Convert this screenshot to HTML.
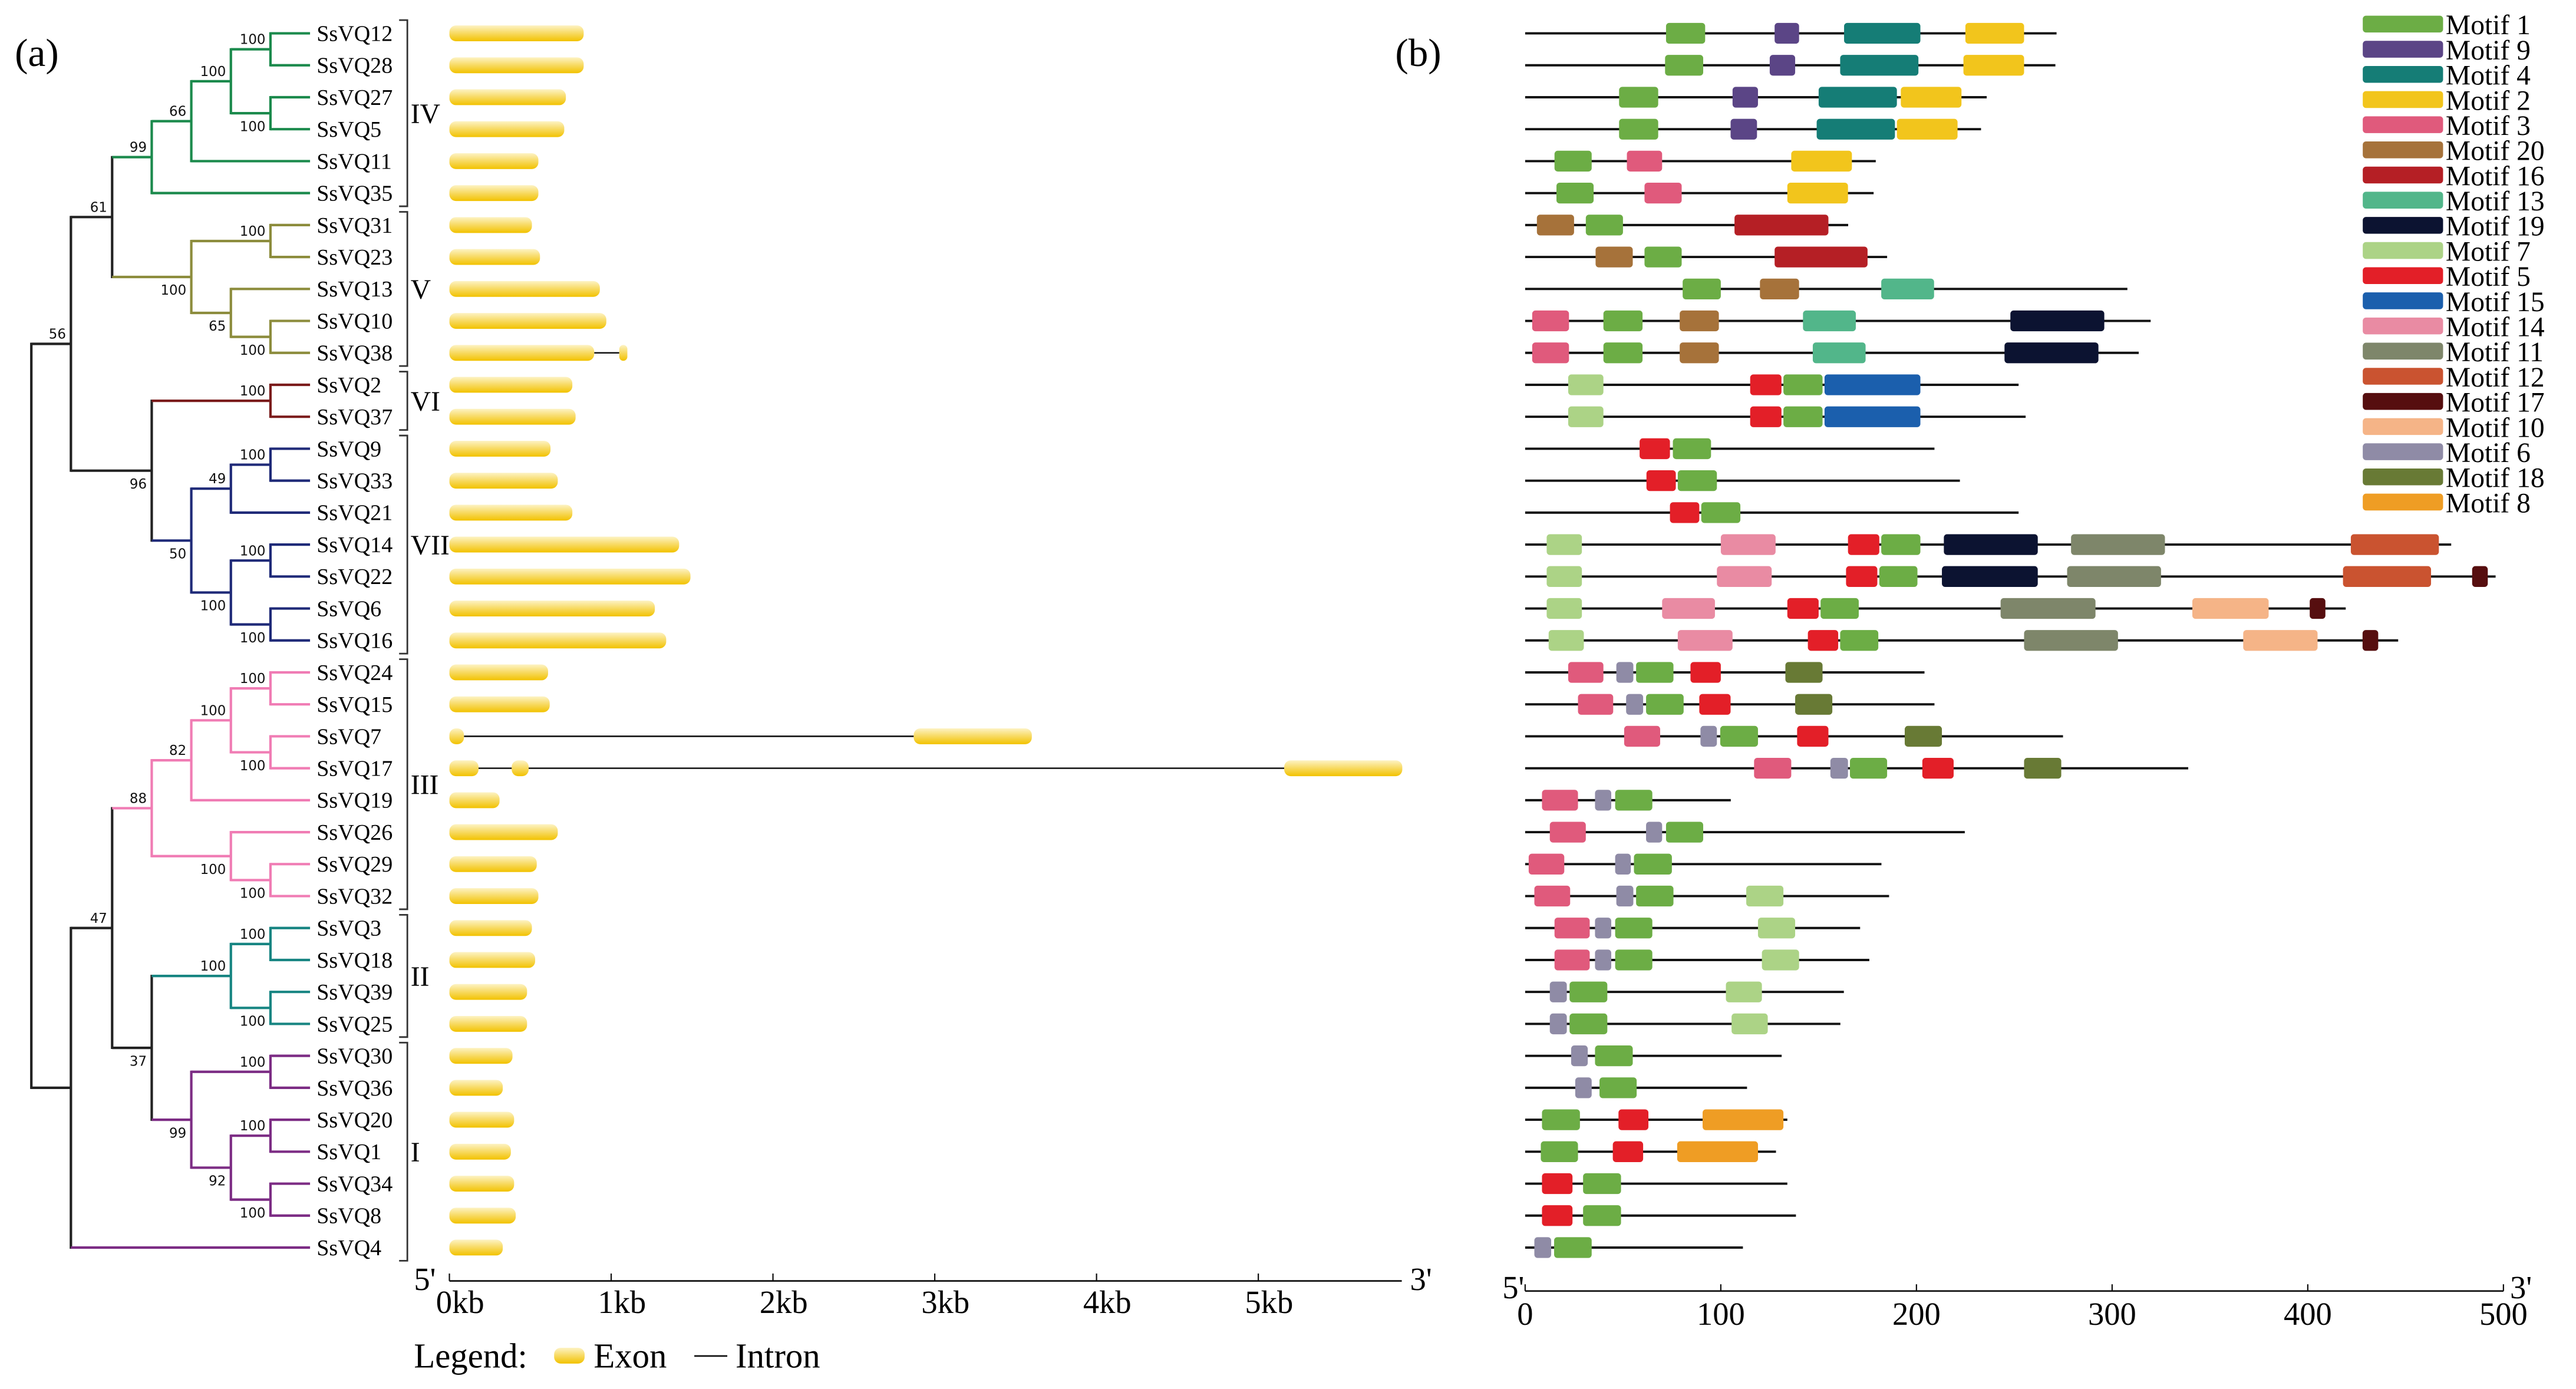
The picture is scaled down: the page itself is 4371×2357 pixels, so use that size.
<!DOCTYPE html>
<html><head><meta charset="utf-8">
<style>
html,body{margin:0;padding:0;background:#fff;}
svg{display:block;}
text{font-family:"Liberation Serif",serif;}
.bs{font-family:"DejaVu Sans","Liberation Sans",sans-serif;font-size:8.2px;fill:#111;}
</style></head>
<body>
<svg id="fig" xmlns="http://www.w3.org/2000/svg" width="4371" height="2357" viewBox="0 0 1562 842" preserveAspectRatio="none">
<defs>
<linearGradient id="exg" x1="0" y1="0" x2="0" y2="1">
<stop offset="0" stop-color="#fdf3c4"/><stop offset="0.45" stop-color="#f8dc6a"/><stop offset="1" stop-color="#f2c200"/>
</linearGradient>
</defs>
<g id="panelA"></g>
<g id="panelB"></g>
<text x="9" y="40" font-size="24">(a)</text>
<text x="846" y="40" font-size="24">(b)</text>
</svg>
<script>
// ---------- data ----------
const genes = ['12','28','27','5','11','35','31','23','13','10','38','2','37','9','33','21','14','22','6','16','24','15','7','17','19','26','29','32','3','18','39','25','30','36','20','1','34','8','4'];
// exons in kb per gene
const exons = [
 [[0,0.83]],[[0,0.83]],[[0,0.72]],[[0,0.71]],[[0,0.55]],[[0,0.55]],[[0,0.51]],[[0,0.56]],[[0,0.93]],[[0,0.97]],
 [[0,0.895],[1.05,1.10]],[[0,0.76]],[[0,0.78]],[[0,0.625]],[[0,0.67]],[[0,0.76]],[[0,1.42]],[[0,1.49]],[[0,1.27]],[[0,1.34]],
 [[0,0.61]],[[0,0.62]],[[0,0.09],[2.87,3.60]],[[0,0.18],[0.385,0.49],[5.16,5.89]],[[0,0.31]],[[0,0.67]],[[0,0.54]],[[0,0.55]],
 [[0,0.51]],[[0,0.53]],[[0,0.48]],[[0,0.48]],[[0,0.39]],[[0,0.33]],[[0,0.40]],[[0,0.38]],[[0,0.40]],[[0,0.41]],[[0,0.33]]
];
// protein lengths (aa)
const protLen = [271.6,271,235.9,233,179.2,178.1,165.1,185,307.8,319.7,313.6,252.2,255.8,209.2,222.2,252.2,473.3,496,419.4,446.2,
 204.1,209.2,274.9,338.9,105.1,224.7,182.1,186,171.2,175.9,162.9,161.1,131.1,113.4,134,128.2,134,138.4,111.3];
// motifs [motif id, start aa, end aa]
const motifs = [
 [[1,72,92],[9,127.5,140],[4,163,202],[2,225,255]],
 [[1,71.5,91],[9,125,138],[4,161,201],[2,224,255]],
 [[1,48,68],[9,106,119],[4,150,190],[2,192,223]],
 [[1,48,68],[9,105,118.5],[4,149,189],[2,190,221]],
 [[1,15,34],[3,52,70],[2,136,167]],
 [[1,16,35],[3,61,80],[2,134,165]],
 [[20,6,25],[1,31,50],[16,107,155]],
 [[20,36,55],[1,61,80],[16,127.5,175]],
 [[1,80.5,100],[20,120,140],[13,182,209]],
 [[3,3.6,22.4],[1,40,60],[20,79,99],[13,142,169],[19,248,296]],
 [[3,3.6,22.4],[1,40,60],[20,79,99],[13,147,174],[19,245,293]],
 [[7,22,40],[5,115,131],[1,132,152],[15,153,202]],
 [[7,22,40],[5,115,131],[1,132,152],[15,153,202]],
 [[5,58.5,74],[1,75.5,95]],
 [[5,62,77],[1,78,98]],
 [[5,74,89],[1,90,110]],
 [[7,11,29],[14,100,128],[5,165,181],[1,182,202],[19,214,262],[11,279,327],[12,422,467]],
 [[7,11,29],[14,98,126],[5,164,180],[1,181,200.5],[19,213,262],[11,277,325],[12,418,463],[17,484,492]],
 [[7,11,29],[14,70,97],[5,134,150],[1,151,170.5],[11,243,291.5],[10,341,380],[17,401,409]],
 [[7,12,30],[14,78,106],[5,144.5,160],[1,161,180.5],[11,255,303],[10,367,405],[17,428,436]],
 [[3,22,40],[6,46.6,55.3],[1,56.7,75.8],[5,84.5,100],[18,133,152]],
 [[3,27,45],[6,51.6,60.3],[1,61.8,81],[5,89,105],[18,138,157]],
 [[3,50.6,69],[6,89.6,98],[1,99.7,119],[5,139,155],[18,194,213]],
 [[3,117,136],[6,156,165],[1,166,185],[5,203,219],[18,255,274]],
 [[3,8.6,27],[6,35.7,44],[1,46,65]],
 [[3,12.6,31],[6,61.8,70],[1,72,91]],
 [[3,1.8,20],[6,46,54],[1,55.6,75]],
 [[3,4.7,23],[6,46.6,55.3],[1,56.7,75.8],[7,113,132]],
 [[3,15,33],[6,35.7,44],[1,46,65],[7,119,138]],
 [[3,15,33],[6,35.7,44],[1,46,65],[7,121,140]],
 [[6,12.6,21.3],[1,22.7,42],[7,102.6,121]],
 [[6,12.6,21.3],[1,22.7,42],[7,105.5,124]],
 [[6,23.5,32],[1,35.7,55]],
 [[6,25.6,34],[1,38,57]],
 [[1,8.6,28],[5,47.7,63],[8,90.7,132]],
 [[1,8,27],[5,44.8,60.3],[8,77.7,119]],
 [[5,8.6,24.2],[1,29.6,49]],
 [[5,8.6,24.2],[1,29.6,49]],
 [[6,4.7,13.3],[1,14.8,34]]
];
const legendOrder = [1,9,4,2,3,20,16,13,19,7,5,15,14,11,12,17,10,6,18,8];
const motifColor = {1:'#6cad45',9:'#5b4586',4:'#157d76',2:'#f2c51c',3:'#e05a7c',20:'#a6723a',16:'#b51f25',13:'#52b68a',19:'#0c1331',
 7:'#acd386',5:'#e31f28',15:'#1b5fad',14:'#e98ba3',11:'#7e866a',12:'#ca5330',17:'#560e0f',10:'#f5b487',6:'#8f8ba6',18:'#687a35',8:'#ef9d24'};
const kbTicks = ['0kb','1kb','2kb','3kb','4kb','5kb'];
const aaTicks = [0,100,200,300,400,500];
const groups = [['IV',0,5],['V',6,10],['VI',11,12],['VII',13,19],['III',20,27],['II',28,31],['I',32,38]];

// ---------- helpers ----------
const NS='http://www.w3.org/2000/svg';
function mk(tag, attrs, parent){const e=document.createElementNS(NS,tag);for(const k in attrs)e.setAttribute(k,attrs[k]);parent.appendChild(e);return e;}
const A=document.getElementById('panelA'), Bp=document.getElementById('panelB');
const rowY = i => 20.2 + i*19.37;
const kbX = v => 272.5 + v*98.1;
const aaX = v => 924.8 + v*1.1864;

// ---------- tree ----------
const G='#1b8a4c',O='#8c8c3c',R='#7b1c1c',Bl='#1f2a78',P='#f07cb4',T='#178582',U='#7c2c84',K='#222';
function N(x,lab,pos,col,...c){return {x,lab,pos,col,c};}
const tree = N(19,null,null,K,
  N(43,'56','a',K,
    N(68,'61','a',K,
      N(92,'99','a',G, N(116,'66','a',G, N(140,'100','a',G, N(164,'100','a',G,'12','28'), N(164,'100','b',G,'27','5')), '11'), '35'),
      N(116,'100','b',O, N(164,'100','a',O,'31','23'), N(140,'65','b',O,'13', N(164,'100','b',O,'10','38')))),
    N(92,'96','b',K,
      N(164,'100','a',R,'2','37'),
      N(116,'50','b',Bl, N(140,'49','a',Bl,N(164,'100','a',Bl,'9','33'),'21'), N(140,'100','b',Bl,N(164,'100','a',Bl,'14','22'),N(164,'100','b',Bl,'6','16'))))),
  N(43,null,null,K,
    N(68,'47','a',K,
      N(92,'88','a',P, N(116,'82','a',P, N(140,'100','a',P,N(164,'100','a',P,'24','15'),N(164,'100','b',P,'7','17')),'19'), N(140,'100','b',P,'26',N(164,'100','b',P,'29','32'))),
      N(92,'37','b',K, N(140,'100','a',T,N(164,'100','a',T,'3','18'),N(164,'100','b',T,'39','25')), N(116,'99','b',U,N(164,'100','a',U,'30','36'),N(140,'92','b',U,N(164,'100','a',U,'20','1'),N(164,'100','b',U,'34','8'))))),
    '4'));
const tipColorOverride = {'4':U};
const treeG = mk('g',{},A);


function ny(n){ if(typeof n==='string') return rowY(genes.indexOf(n)); const ys=n.c.map(ny); return (ys[0]+ys[ys.length-1])/2; }
function drawNode(n){
  const ys=n.c.map(ny);
  const v=mk('line',{x1:n.x,x2:n.x,y1:ys[0]-0.7,y2:ys[ys.length-1]+0.7,stroke:n.col,'stroke-width':1.5},treeG);
  
  
  n.c.forEach((ch,i)=>{
    const isTip=typeof ch==='string';
    const col=isTip?(tipColorOverride[ch]||n.col):ch.col;
    const x2=isTip?188:ch.x;
    const h=mk('line',{x1:n.x,x2:x2,y1:ys[i],y2:ys[i],stroke:col,'stroke-width':1.5},treeG);
    
    
    if(!isTip) drawNode(ch);
  });
  if(n.lab){
    const y=ny(n);
    const t=mk('text',{x:n.x-3,y:n.pos==='a'?y-3.2:y+10.8,'text-anchor':'end',class:'bs'},treeG);
    t.textContent=n.lab;
    
    
  }
}
drawNode(tree);

// gene labels
genes.forEach((g,i)=>{
  const t=mk('text',{x:192,y:rowY(i)+4.6,'font-size':13.6},A);
  t.textContent='SsVQ'+g;
  
  
});
// group brackets
groups.forEach(([nm,a,b])=>{
  const y1=rowY(a)-8,y2=rowY(b)+8;
  const p=mk('path',{d:`M242,${y1} H247 V${y2} H242`,fill:'none',stroke:'#333','stroke-width':1},A);
  
  
  const t=mk('text',{x:249,y:(y1+y2)/2+6,'font-size':17},A);
  t.textContent=nm;
  
  
});

// gene structures
genes.forEach((g,i)=>{
  const y=rowY(i), ex=exons[i];
  const gg=mk('g',{},A);
  
  
  if(ex.length>1){
    const l=mk('line',{x1:kbX(ex[0][1]),x2:kbX(ex[ex.length-1][0]),y1:y,y2:y,stroke:'#111','stroke-width':0.9},gg);
    
    
  }
  ex.forEach(e=>{
    const w=kbX(e[1])-kbX(e[0]);
    const r=mk('rect',{x:kbX(e[0]),y:y-4.8,width:w,height:9.6,rx:Math.min(4,w/2),fill:'url(#exg)'},gg);
    
    
  });
});
// kb axis
const ax=mk('g',{},A);


mk('line',{x1:kbX(0),x2:850,y1:776.5,y2:776.5,stroke:'#111','stroke-width':1},ax);
kbTicks.forEach((lab,i)=>{
  mk('line',{x1:kbX(i),x2:kbX(i),y1:776.5,y2:772,stroke:'#111','stroke-width':0.8},ax);
  const t=mk('text',{x:kbX(i)+6.5,y:796,'text-anchor':'middle','font-size':19.5},ax);
  t.textContent=lab;
  
  
});
(function(){const t=mk('text',{x:251,y:782,'font-size':19.5},ax);t.textContent="5'";
const t2=mk('text',{x:855,y:782,'font-size':19.5},ax);t2.textContent="3'";})();
// legend a
const lg=mk('g',{},A);


(function(){
  const t=mk('text',{x:251,y:829,'font-size':21},lg);t.textContent='Legend:';
  const r=mk('rect',{x:336,y:817,width:18.5,height:9.6,rx:4,fill:'url(#exg)'},lg);
  
  
  const t2=mk('text',{x:360,y:829,'font-size':21},lg);t2.textContent='Exon';
  mk('line',{x1:421,x2:441,y1:822,y2:822,stroke:'#111','stroke-width':1},lg);
  const t3=mk('text',{x:446,y:829,'font-size':21},lg);t3.textContent='Intron';
})();

// ---------- panel b ----------
genes.forEach((g,i)=>{
  const y=rowY(i);
  const gg=mk('g',{},Bp);
  
  
  const l=mk('line',{x1:aaX(0),x2:aaX(protLen[i]),y1:y,y2:y,stroke:'#111','stroke-width':1.4},gg);
  
  
  motifs[i].forEach(([id,s,e])=>{
    const r=mk('rect',{x:aaX(s),y:y-6.3,width:aaX(e)-aaX(s),height:12.6,rx:2,fill:motifColor[id]},gg);
    
    
  });
});
// aa axis
const bx=mk('g',{},Bp);


mk('line',{x1:aaX(0),x2:aaX(500),y1:782.6,y2:782.6,stroke:'#111','stroke-width':1},bx);
aaTicks.forEach(v=>{
  mk('line',{x1:aaX(v),x2:aaX(v),y1:782.6,y2:778.5,stroke:'#111','stroke-width':0.8},bx);
  const t=mk('text',{x:aaX(v),y:803,'text-anchor':'middle','font-size':19.5},bx);
  t.textContent=String(v);
  
  
});
(function(){const t=mk('text',{x:911,y:787,'font-size':19.5},bx);t.textContent="5'";
const t2=mk('text',{x:1522,y:787,'font-size':19.5},bx);t2.textContent="3'";})();
// motif legend
legendOrder.forEach((id,k)=>{
  const y=14.6+k*15.25;
  const g=mk('g',{},Bp);
  
  
  mk('rect',{x:1432.7,y:y-5.1,width:48.7,height:10.2,rx:2,fill:motifColor[id]},g);
  const t=mk('text',{x:1483,y:y+6.2,'font-size':17},g);
  t.textContent='Motif '+id;
});
</script>
</body></html>
